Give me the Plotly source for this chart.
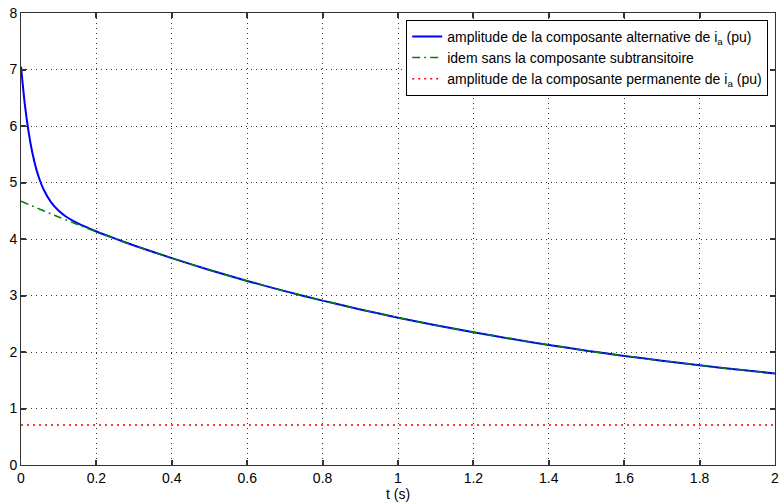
import plotly.graph_objects as go

t = [0, 0.01, 0.02, 0.03, 0.04, 0.05, 0.06, 0.08, 0.1, 0.12, 0.15, 0.2, 0.25, 0.3,
     0.4, 0.5, 0.6, 0.7, 0.8, 0.9, 1.0, 1.1, 1.2, 1.3, 1.4, 1.5, 1.6, 1.7, 1.8, 1.9, 2.0]

amp_alt = [7.05, 6.39, 5.90, 5.53, 5.25, 5.04, 4.875, 4.647, 4.499, 4.394, 4.280, 4.133, 4.006, 3.886,
           3.661, 3.452, 3.257, 3.077, 2.909, 2.753, 2.608, 2.474, 2.349, 2.233, 2.125, 2.024,
           1.931, 1.845, 1.764, 1.689, 1.620]

amp_sans_sub = [4.67, 4.641, 4.612, 4.584, 4.555, 4.527, 4.499, 4.444, 4.389, 4.335, 4.256, 4.128, 4.005, 3.886,
                3.661, 3.452, 3.257, 3.077, 2.909, 2.753, 2.608, 2.474, 2.349, 2.233, 2.125, 2.024,
                1.931, 1.845, 1.764, 1.689, 1.620]

t_perm = [0, 2]
amp_perm = [0.71, 0.71]

names = [
    "amplitude de la composante alternative de i<sub>a</sub> (pu)",
    "idem sans la composante subtransitoire",
    "amplitude de la composante permanente de i<sub>a</sub> (pu)",
]

x_ticks = [0, 0.2, 0.4, 0.6, 0.8, 1, 1.2, 1.4, 1.6, 1.8, 2]
y_ticks = [0, 1, 2, 3, 4, 5, 6, 7, 8]

fig = go.Figure()
fig.add_trace(go.Scatter(x=t, y=amp_alt, mode="lines", name=names[0],
                         line=dict(color="#0000ff", width=2, shape="spline", smoothing=0.6)))
fig.add_trace(go.Scatter(x=t, y=amp_sans_sub, mode="lines", name=names[1],
                         line=dict(color="#008000", width=1.5, dash="8px,4px,2px,4px",
                                   shape="spline", smoothing=0.6)))
fig.add_trace(go.Scatter(x=t_perm, y=amp_perm, mode="lines", name=names[2],
                         line=dict(color="#ff0000", width=1.5, dash="2px,4px")))

axis_common = dict(
    showline=True, linecolor="#333333", linewidth=1, mirror="ticks",
    ticks="inside", ticklen=5, tickcolor="#333333", tickwidth=1.5,
    showgrid=True, gridcolor="rgba(0,0,0,0.8)", griddash="1px,4px", gridwidth=1,
    zeroline=False, tickfont=dict(size=14, color="black"),
)

fig.update_layout(
    width=784, height=502,
    margin=dict(l=21, r=5, t=12, b=37),
    plot_bgcolor="white", paper_bgcolor="white",
    font=dict(family="Liberation Sans, Arial, sans-serif", color="black"),
    xaxis=dict(range=[0, 2], tickvals=x_ticks, ticktext=[str(v) for v in x_ticks],
               title=dict(text="t (s)", font=dict(size=14), standoff=0), **axis_common),
    yaxis=dict(range=[0, 8], tickvals=y_ticks, **axis_common),
    legend=dict(x=0.991, y=0.985, xanchor="right", yanchor="top",
                bgcolor="white", bordercolor="black", borderwidth=1,
                font=dict(size=14), tracegroupgap=0, itemwidth=30),
    showlegend=True,
)

fig.write_html("out.html")
